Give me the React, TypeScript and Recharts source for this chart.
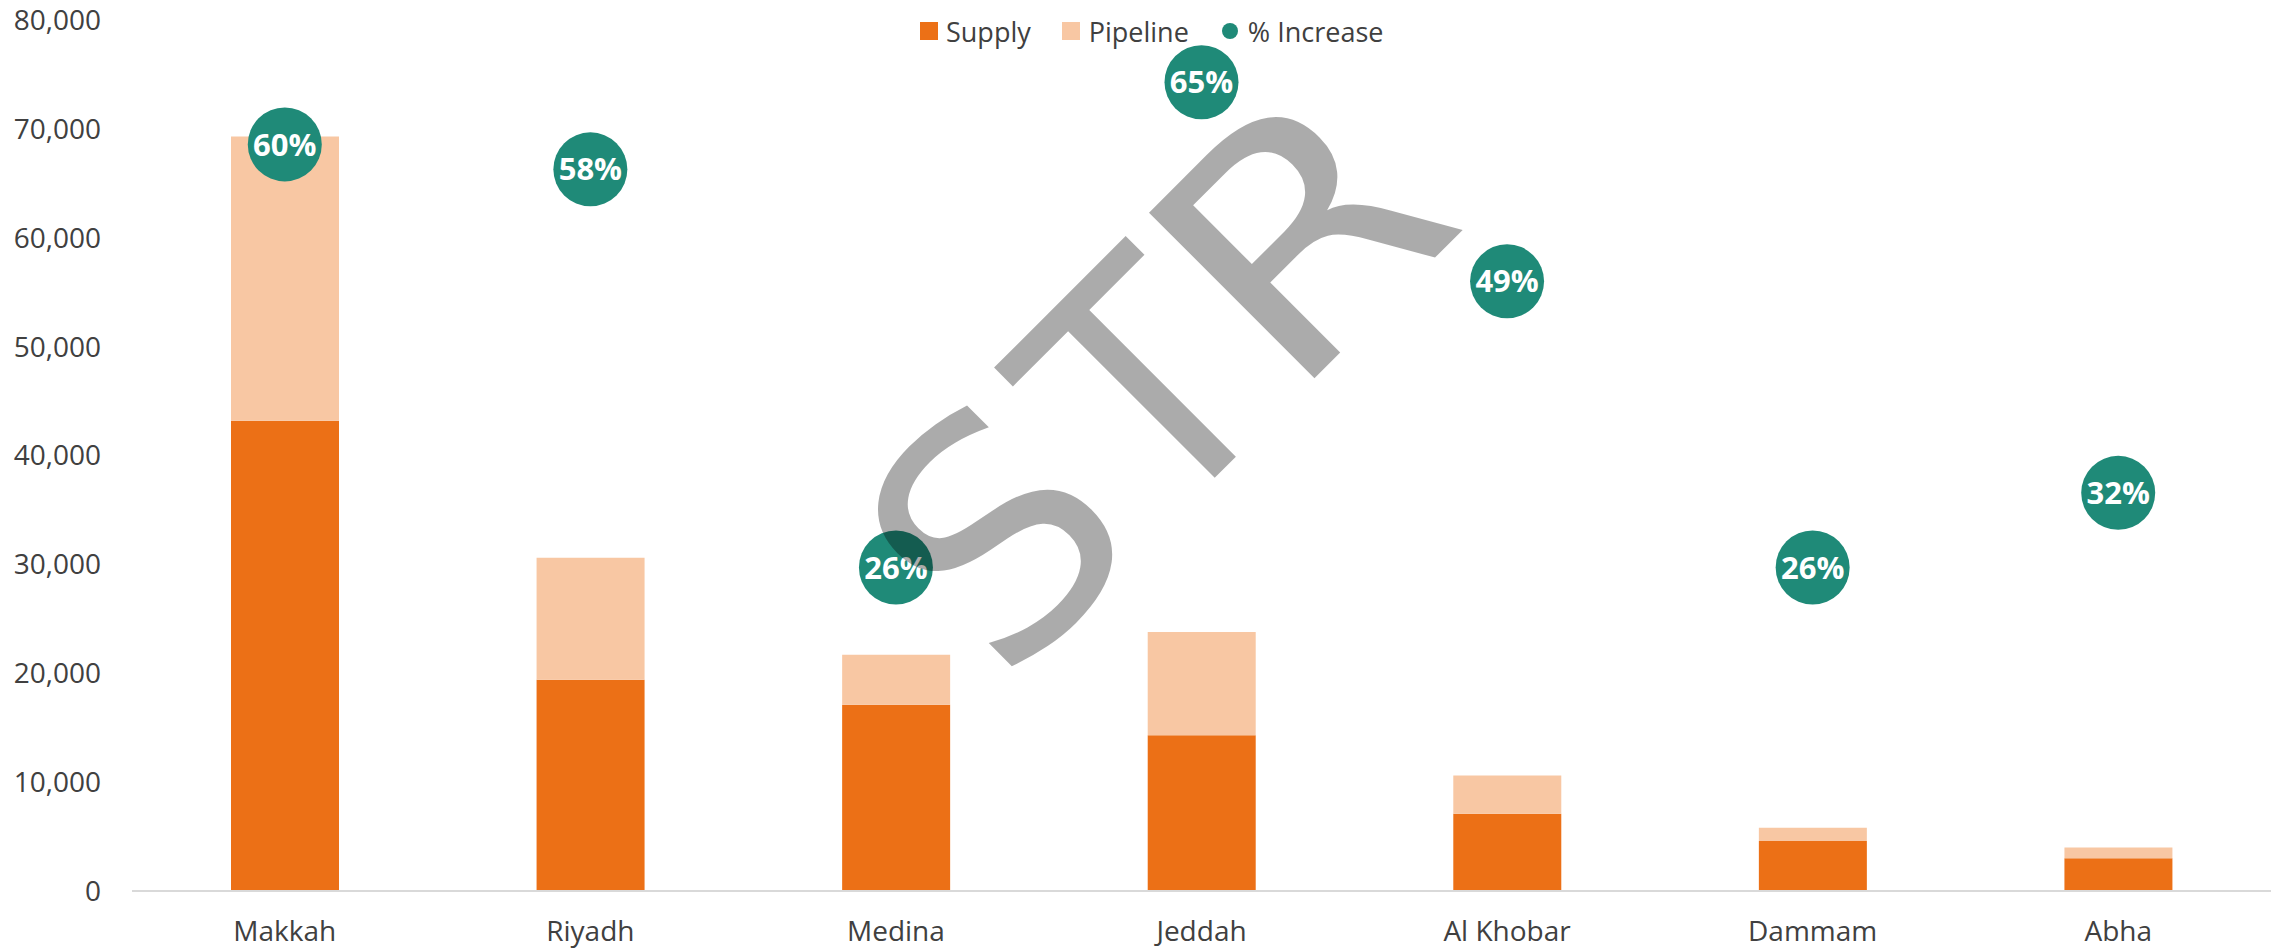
import React from 'react';
import { ComposedChart, Bar, Line, XAxis, YAxis, Legend } from 'recharts';

const cities = ['Makkah', 'Riyadh', 'Medina', 'Jeddah', 'Al Khobar', 'Dammam', 'Abha'];
const supply = [43200, 19400, 17100, 14300, 7100, 4600, 3000];
const pipeline = [26100, 11200, 4600, 9500, 3500, 1200, 1000];
const increase = [0.6, 0.58, 0.26, 0.65, 0.49, 0.26, 0.32];
const yTicks = [0, 10000, 20000, 30000, 40000, 50000, 60000, 70000, 80000];
const seriesNames = ['Supply', 'Pipeline', '% Increase'];
const watermark = ['S', 'T', 'R'];

const data = cities.map((c, i) => ({
  city: c,
  supply: supply[i],
  pipeline: pipeline[i],
  increase: increase[i],
}));

const FONT = '"Open Sans", "Noto Sans", sans-serif';
const TEXT = '#404040';
const SUPPLY = '#EC7016';
const PIPE = '#F8C7A3';
const TEAL = '#1F8A78';

const IncreaseDot = (props: any) => {
  const { cx, cy, payload, index } = props;
  if (cx == null || cy == null) return null;
  return (
    <g key={`dot-${index}`}>
      <circle cx={cx} cy={cy} r={37} fill={TEAL} />
      <text
        x={cx}
        y={cy}
        dy="0.36em"
        textAnchor="middle"
        fill="#ffffff"
        fontSize={31}
        fontWeight={700}
        fontFamily={FONT}
      >
        {`${Math.round(payload.increase * 100)}%`}
      </text>
    </g>
  );
};

const LegendContent = () => (
  <div
    style={{
      display: 'flex',
      alignItems: 'center',
      fontFamily: FONT,
      fontSize: 27,
      color: TEXT,
      paddingLeft: 920,
      height: 36,
      whiteSpace: 'nowrap',
    }}
  >
    <span style={{ width: 18, height: 18, background: SUPPLY, display: 'inline-block', marginRight: 8 }} />
    <span style={{ marginRight: 31 }}>{seriesNames[0]}</span>
    <span style={{ width: 18, height: 18, background: PIPE, display: 'inline-block', marginRight: 9 }} />
    <span style={{ marginRight: 33 }}>{seriesNames[1]}</span>
    <span style={{ width: 16, height: 16, borderRadius: 8, background: TEAL, display: 'inline-block', marginRight: 10 }} />
    <span>{seriesNames[2]}</span>
  </div>
);

// watermark letter placement along the rotated baseline: [offset, horizontal scale]
const wmPlace: [number, number][] = [
  [-440, 1.02],
  [-218, 0.94],
  [-36, 1.15],
];

export default function App() {
  return (
    <div style={{ position: 'absolute', left: 0, top: 0, width: 2280, height: 949, background: '#fff' }}>
      <ComposedChart
        width={2280}
        height={949}
        data={data}
        margin={{ top: 20, right: 9, bottom: 0, left: 0 }}
        barGap={0}
      >
        <XAxis
          dataKey="city"
          height={58}
          tickLine={false}
          tickSize={0}
          tickMargin={30}
          axisLine={{ stroke: '#D9D9D9', strokeWidth: 2 }}
          tick={{ fill: TEXT, fontSize: 28, fontFamily: FONT }}
          interval={0}
        />
        <YAxis
          yAxisId="left"
          width={132}
          domain={[0, 80000]}
          ticks={yTicks}
          interval={0}
          axisLine={false}
          tickLine={false}
          tickSize={0}
          tickMargin={31}
          tick={{ fill: TEXT, fontSize: 28, fontFamily: FONT }}
          tickFormatter={(v: number) => v.toLocaleString('en-US')}
        />
        <YAxis yAxisId="right" orientation="right" hide domain={[0, 0.7]} />
        <Legend
          verticalAlign="middle"
          align="center"
          content={<LegendContent />}
          wrapperStyle={{ position: 'absolute', top: 13, left: 0, width: 2280, height: 36 }}
        />
        <Bar
          yAxisId="left"
          dataKey="supply"
          name={seriesNames[0]}
          stackId="a"
          fill={SUPPLY}
          barSize={108}
          isAnimationActive={false}
        />
        <Bar
          yAxisId="left"
          dataKey="pipeline"
          name={seriesNames[1]}
          stackId="a"
          fill={PIPE}
          barSize={108}
          isAnimationActive={false}
        />
        <Line
          yAxisId="right"
          dataKey="increase"
          name={seriesNames[2]}
          stroke="none"
          dot={IncreaseDot}
          activeDot={false}
          legendType="circle"
          isAnimationActive={false}
        />
      </ComposedChart>
      <svg
        width={2280}
        height={949}
        style={{ position: 'absolute', left: 0, top: 0, pointerEvents: 'none' }}
      >
        <g transform="translate(1314.3,378.3) rotate(-45)">
          {watermark.map((ch, i) => (
            <text
              key={ch}
              x={0}
              y={0}
              transform={`translate(${wmPlace[i][0]},0) scale(${wmPlace[i][1]},1)`}
              fontSize={321}
              fontFamily='"DejaVu Sans", sans-serif'
              fill="#000000"
              fillOpacity={0.33}
            >
              {ch}
            </text>
          ))}
        </g>
      </svg>
    </div>
  );
}
